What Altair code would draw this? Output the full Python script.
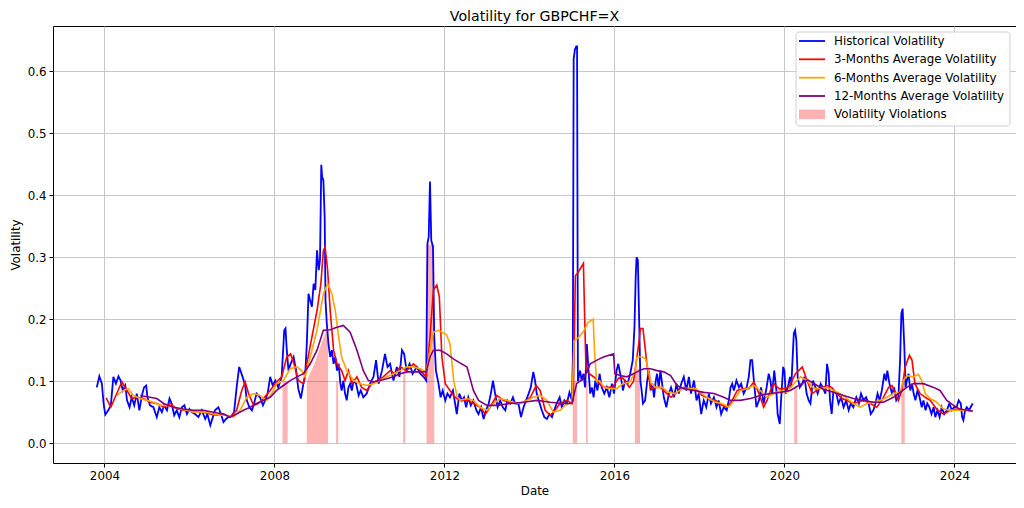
import altair as alt
import pandas as pd

# ---------------- data ----------------
hist_year = [
    2003.82, 2003.88, 2003.94, 2003.98, 2004.02, 2004.09, 2004.15, 2004.21, 2004.27, 2004.33,
    2004.38, 2004.43, 2004.49, 2004.53, 2004.59, 2004.64, 2004.70, 2004.76, 2004.82, 2004.88,
    2004.93, 2004.98, 2005.01, 2005.07, 2005.15, 2005.23, 2005.29, 2005.35, 2005.40, 2005.47,
    2005.53, 2005.58, 2005.64, 2005.70, 2005.76, 2005.82, 2005.88, 2005.94, 2006.00, 2006.05,
    2006.13, 2006.21, 2006.29, 2006.37, 2006.42, 2006.49, 2006.55, 2006.60, 2006.68, 2006.74,
    2006.80, 2006.86, 2006.92, 2007.00, 2007.05, 2007.11, 2007.17, 2007.21, 2007.25, 2007.31,
    2007.35, 2007.41, 2007.47, 2007.52, 2007.58, 2007.66, 2007.73, 2007.78, 2007.84, 2007.90,
    2007.96, 2008.02, 2008.09, 2008.17, 2008.23, 2008.26, 2008.29, 2008.33, 2008.38, 2008.45,
    2008.51, 2008.56, 2008.62, 2008.68, 2008.72, 2008.76, 2008.80, 2008.84, 2008.88, 2008.92,
    2008.96, 2009.00, 2009.04, 2009.07, 2009.10, 2009.12, 2009.15, 2009.18, 2009.20, 2009.23,
    2009.27, 2009.31, 2009.35, 2009.39, 2009.43, 2009.47, 2009.51, 2009.55, 2009.58, 2009.62,
    2009.66, 2009.70, 2009.74, 2009.78, 2009.82, 2009.86, 2009.92, 2009.98, 2010.03, 2010.09,
    2010.17, 2010.25, 2010.33, 2010.39, 2010.45, 2010.53, 2010.60, 2010.66, 2010.72, 2010.80,
    2010.88, 2010.94, 2011.00, 2011.05, 2011.11, 2011.18, 2011.25, 2011.35, 2011.43, 2011.51,
    2011.57, 2011.60, 2011.63, 2011.66, 2011.69, 2011.73, 2011.76, 2011.80, 2011.86, 2011.91,
    2011.96, 2012.02, 2012.07, 2012.13, 2012.20, 2012.25, 2012.29, 2012.35, 2012.41, 2012.46,
    2012.51, 2012.56, 2012.62, 2012.68, 2012.75, 2012.80, 2012.86, 2012.92, 2012.98, 2013.04,
    2013.09, 2013.14, 2013.19, 2013.25, 2013.31, 2013.37, 2013.43, 2013.48, 2013.55, 2013.61,
    2013.66, 2013.74, 2013.80, 2013.86, 2013.92, 2013.98, 2014.03, 2014.09, 2014.13, 2014.17,
    2014.24, 2014.29, 2014.35, 2014.41, 2014.47, 2014.53, 2014.58, 2014.64, 2014.71, 2014.76,
    2014.82, 2014.88, 2014.94, 2015.00, 2015.02, 2015.04, 2015.07, 2015.10, 2015.12, 2015.14,
    2015.19, 2015.23, 2015.27, 2015.31, 2015.35, 2015.39, 2015.43, 2015.47, 2015.51, 2015.55,
    2015.60, 2015.65, 2015.70, 2015.76, 2015.82, 2015.88, 2015.94, 2015.99, 2016.05, 2016.09,
    2016.15, 2016.20, 2016.25, 2016.31, 2016.37, 2016.43, 2016.47, 2016.50, 2016.52, 2016.55,
    2016.58, 2016.61, 2016.63, 2016.67, 2016.72, 2016.77, 2016.81, 2016.85, 2016.89, 2016.93,
    2016.97, 2017.00, 2017.04, 2017.08, 2017.12, 2017.16, 2017.22, 2017.28, 2017.33, 2017.40,
    2017.46, 2017.51, 2017.57, 2017.63, 2017.69, 2017.75, 2017.80, 2017.87, 2017.93, 2017.98,
    2018.04, 2018.10, 2018.16, 2018.22, 2018.27, 2018.34, 2018.40, 2018.45, 2018.51, 2018.57,
    2018.64, 2018.69, 2018.73, 2018.77, 2018.81, 2018.87, 2018.93, 2018.98, 2019.04, 2019.11,
    2019.16, 2019.20, 2019.24, 2019.28, 2019.34, 2019.40, 2019.45, 2019.51, 2019.58, 2019.63,
    2019.67, 2019.71, 2019.76, 2019.81, 2019.84, 2019.89, 2019.92, 2019.97, 2020.00, 2020.03,
    2020.08, 2020.13, 2020.16, 2020.19, 2020.22, 2020.25, 2020.28, 2020.31, 2020.36, 2020.42,
    2020.47, 2020.52, 2020.57, 2020.61, 2020.67, 2020.73, 2020.78, 2020.85, 2020.90, 2020.96,
    2021.00, 2021.04, 2021.07, 2021.11, 2021.15, 2021.22, 2021.27, 2021.33, 2021.39, 2021.45,
    2021.51, 2021.56, 2021.62, 2021.69, 2021.75, 2021.80, 2021.86, 2021.92, 2021.98, 2022.03,
    2022.09, 2022.14, 2022.19, 2022.24, 2022.29, 2022.35, 2022.39, 2022.42, 2022.47, 2022.53,
    2022.58, 2022.63, 2022.68, 2022.72, 2022.75, 2022.78, 2022.82, 2022.85, 2022.88, 2022.92,
    2022.96, 2023.00, 2023.04, 2023.08, 2023.13, 2023.18, 2023.23, 2023.27, 2023.32, 2023.36,
    2023.41, 2023.46, 2023.51, 2023.55, 2023.60, 2023.65, 2023.70, 2023.76, 2023.82, 2023.88,
    2023.94, 2023.99, 2024.05, 2024.10, 2024.15, 2024.18, 2024.21, 2024.25, 2024.29, 2024.34,
    2024.38, 2024.43,
]
hist_vol = [
    0.090, 0.108, 0.096, 0.064, 0.046, 0.053, 0.061, 0.107, 0.096, 0.108,
    0.101, 0.085, 0.093, 0.069, 0.058, 0.074, 0.061, 0.080, 0.053, 0.077,
    0.090, 0.093, 0.074, 0.061, 0.058, 0.042, 0.058, 0.050, 0.061, 0.053,
    0.072, 0.064, 0.045, 0.053, 0.042, 0.058, 0.061, 0.047, 0.055, 0.050,
    0.047, 0.042, 0.053, 0.039, 0.047, 0.029, 0.042, 0.053, 0.058, 0.047,
    0.034, 0.039, 0.042, 0.045, 0.050, 0.090, 0.123, 0.115, 0.107, 0.093,
    0.069, 0.058, 0.053, 0.064, 0.080, 0.074, 0.061, 0.069, 0.080, 0.107,
    0.093, 0.101, 0.090, 0.107, 0.182, 0.185, 0.150, 0.117, 0.128, 0.139,
    0.117, 0.088, 0.072, 0.096, 0.107, 0.160, 0.241, 0.230, 0.220, 0.257,
    0.247, 0.311, 0.279, 0.295, 0.449, 0.430, 0.424, 0.365, 0.230, 0.193,
    0.160, 0.139, 0.150, 0.128, 0.139, 0.117, 0.128, 0.096, 0.085, 0.101,
    0.080, 0.069, 0.090, 0.096, 0.085, 0.101, 0.096, 0.077, 0.085, 0.074,
    0.080, 0.096, 0.107, 0.134, 0.096, 0.117, 0.144, 0.123, 0.128, 0.101,
    0.123, 0.107, 0.150, 0.144, 0.117, 0.128, 0.112, 0.123, 0.112, 0.107,
    0.101, 0.322, 0.333, 0.422, 0.327, 0.317, 0.171, 0.117, 0.096, 0.074,
    0.085, 0.069, 0.080, 0.074, 0.085, 0.064, 0.047, 0.080, 0.069, 0.074,
    0.058, 0.074, 0.061, 0.069, 0.053, 0.047, 0.058, 0.039, 0.053, 0.064,
    0.080, 0.101, 0.080, 0.058, 0.069, 0.058, 0.053, 0.069, 0.064, 0.074,
    0.064, 0.064, 0.042, 0.058, 0.069, 0.080, 0.090, 0.115, 0.101, 0.080,
    0.064, 0.053, 0.042, 0.039, 0.047, 0.042, 0.053, 0.064, 0.074, 0.058,
    0.069, 0.064, 0.082, 0.069, 0.134, 0.620, 0.635, 0.640, 0.640, 0.100,
    0.117, 0.101, 0.112, 0.090, 0.160, 0.117, 0.080, 0.090, 0.074, 0.101,
    0.085, 0.112, 0.090, 0.080, 0.090, 0.074, 0.096, 0.080, 0.117, 0.128,
    0.107, 0.085, 0.101, 0.096, 0.112, 0.134, 0.187, 0.270, 0.300, 0.295,
    0.200, 0.100, 0.090, 0.064, 0.069, 0.101, 0.117, 0.085, 0.096, 0.074,
    0.101, 0.112, 0.090, 0.117, 0.096, 0.074, 0.058, 0.080, 0.090, 0.074,
    0.096, 0.080, 0.096, 0.107, 0.085, 0.107, 0.080, 0.101, 0.069, 0.080,
    0.047, 0.069, 0.058, 0.080, 0.064, 0.074, 0.058, 0.069, 0.047, 0.058,
    0.053, 0.069, 0.090, 0.096, 0.085, 0.101, 0.090, 0.096, 0.080, 0.090,
    0.107, 0.134, 0.134, 0.101, 0.058, 0.069, 0.090, 0.064, 0.090, 0.112,
    0.101, 0.080, 0.117, 0.085, 0.047, 0.031, 0.069, 0.123, 0.117, 0.080,
    0.090, 0.107, 0.090, 0.134, 0.177, 0.182, 0.166, 0.107, 0.090, 0.096,
    0.107, 0.080, 0.069, 0.064, 0.101, 0.090, 0.080, 0.096, 0.090, 0.080,
    0.128, 0.112, 0.069, 0.047, 0.085, 0.080, 0.064, 0.074, 0.058, 0.069,
    0.053, 0.064, 0.058, 0.074, 0.064, 0.080, 0.069, 0.074, 0.064, 0.047,
    0.053, 0.064, 0.080, 0.069, 0.085, 0.112, 0.101, 0.117, 0.096, 0.080,
    0.090, 0.069, 0.074, 0.134, 0.209, 0.217, 0.155, 0.090, 0.101, 0.112,
    0.085, 0.096, 0.080, 0.069, 0.085, 0.074, 0.058, 0.069, 0.053, 0.064,
    0.058, 0.047, 0.058, 0.042, 0.053, 0.042, 0.058, 0.047, 0.053, 0.064,
    0.053, 0.058, 0.058, 0.069, 0.064, 0.042, 0.037, 0.053, 0.058, 0.053,
    0.058, 0.064,
]

ma3_year = [
    2004.04, 2004.15, 2004.41, 2004.53, 2004.64, 2004.76, 2004.92, 2005.07, 2005.23, 2005.39,
    2005.55, 2005.70, 2005.86, 2006.02, 2006.17, 2006.33, 2006.49, 2006.64, 2006.80, 2006.96,
    2007.11, 2007.23, 2007.31, 2007.39, 2007.51, 2007.62, 2007.74, 2007.90, 2008.05, 2008.17,
    2008.29, 2008.38, 2008.46, 2008.56, 2008.68, 2008.76, 2008.88, 2009.00, 2009.09, 2009.15,
    2009.19, 2009.25, 2009.31, 2009.39, 2009.47, 2009.58, 2009.66, 2009.74, 2009.82, 2009.94,
    2010.05, 2010.17, 2010.29, 2010.41, 2010.56, 2010.72, 2010.84, 2010.96, 2011.11, 2011.27,
    2011.43, 2011.57, 2011.66, 2011.74, 2011.82, 2011.88, 2011.94, 2012.02, 2012.13, 2012.25,
    2012.37, 2012.53, 2012.68, 2012.84, 2012.96, 2013.07, 2013.23, 2013.39, 2013.55, 2013.70,
    2013.86, 2014.02, 2014.16, 2014.25, 2014.37, 2014.49, 2014.60, 2014.72, 2014.88, 2015.00,
    2015.03, 2015.08, 2015.14, 2015.27, 2015.30, 2015.33, 2015.35, 2015.45, 2015.55, 2015.65,
    2015.75, 2015.85, 2015.95, 2016.10, 2016.20, 2016.35, 2016.45, 2016.57, 2016.61, 2016.67,
    2016.77, 2016.85, 2016.96, 2017.08, 2017.20, 2017.33, 2017.47, 2017.63, 2017.75, 2017.91,
    2018.06, 2018.22, 2018.38, 2018.53, 2018.65, 2018.77, 2018.89, 2019.04, 2019.16, 2019.28,
    2019.40, 2019.51, 2019.59, 2019.67, 2019.75, 2019.87, 2019.98, 2020.10, 2020.26, 2020.42,
    2020.53, 2020.65, 2020.82, 2021.00, 2021.11, 2021.23, 2021.35, 2021.47, 2021.58, 2021.71,
    2021.86, 2022.02, 2022.17, 2022.29, 2022.45, 2022.53, 2022.60, 2022.68, 2022.76, 2022.84,
    2022.94, 2023.00, 2023.07, 2023.19, 2023.31, 2023.43, 2023.58, 2023.74, 2023.90, 2024.05,
    2024.21, 2024.43,
]
ma3_vol = [
    0.073, 0.058, 0.099, 0.085, 0.072, 0.074, 0.072, 0.066, 0.064, 0.058,
    0.064, 0.055, 0.053, 0.053, 0.050, 0.050, 0.047, 0.045, 0.047, 0.042,
    0.053, 0.085, 0.099, 0.080, 0.061, 0.064, 0.072, 0.085, 0.099, 0.107,
    0.139, 0.144, 0.128, 0.101, 0.096, 0.128, 0.171, 0.214, 0.257, 0.311,
    0.317, 0.279, 0.214, 0.150, 0.128, 0.117, 0.101, 0.117, 0.096, 0.107,
    0.090, 0.085, 0.096, 0.101, 0.107, 0.117, 0.112, 0.123, 0.117, 0.128,
    0.117, 0.107, 0.171, 0.247, 0.255, 0.236, 0.139, 0.096, 0.085, 0.074,
    0.069, 0.069, 0.064, 0.058, 0.047, 0.058, 0.077, 0.069, 0.066, 0.064,
    0.066, 0.074, 0.093, 0.085, 0.053, 0.045, 0.053, 0.064, 0.069, 0.064,
    0.070, 0.270, 0.275, 0.290, 0.200, 0.120, 0.115, 0.110, 0.105, 0.095,
    0.090, 0.090, 0.090, 0.105, 0.105, 0.090, 0.100, 0.160, 0.185, 0.185,
    0.123, 0.088, 0.090, 0.090, 0.082, 0.074, 0.082, 0.090, 0.088, 0.088,
    0.077, 0.072, 0.069, 0.061, 0.058, 0.069, 0.085, 0.088, 0.088, 0.099,
    0.080, 0.058, 0.069, 0.085, 0.096, 0.088, 0.088, 0.090, 0.112, 0.123,
    0.101, 0.080, 0.088, 0.093, 0.090, 0.080, 0.072, 0.069, 0.064, 0.066,
    0.069, 0.064, 0.058, 0.069, 0.090, 0.093, 0.082, 0.069, 0.085, 0.123,
    0.142, 0.134, 0.096, 0.080, 0.074, 0.069, 0.055, 0.047, 0.053, 0.055,
    0.054, 0.052,
]

ma6_year = [
    2004.29, 2004.45, 2004.56, 2004.68, 2004.84, 2005.00, 2005.15, 2005.31, 2005.47, 2005.62,
    2005.78, 2005.94, 2006.09, 2006.25, 2006.41, 2006.56, 2006.72, 2006.88, 2007.04, 2007.19,
    2007.35, 2007.51, 2007.66, 2007.82, 2007.98, 2008.05, 2008.21, 2008.37, 2008.53, 2008.64,
    2008.72, 2008.84, 2009.00, 2009.15, 2009.25, 2009.35, 2009.43, 2009.51, 2009.58, 2009.70,
    2009.86, 2010.02, 2010.17, 2010.33, 2010.49, 2010.64, 2010.80, 2010.96, 2011.11, 2011.27,
    2011.43, 2011.57, 2011.66, 2011.74, 2011.86, 2011.94, 2012.05, 2012.13, 2012.22, 2012.30,
    2012.37, 2012.53, 2012.68, 2012.84, 2013.00, 2013.15, 2013.31, 2013.47, 2013.62, 2013.78,
    2013.94, 2014.09, 2014.25, 2014.41, 2014.56, 2014.72, 2014.88, 2015.00, 2015.05, 2015.15,
    2015.27, 2015.38, 2015.50, 2015.53, 2015.58, 2015.65, 2015.75, 2015.88, 2016.05, 2016.20,
    2016.37, 2016.49, 2016.53, 2016.65, 2016.73, 2016.80, 2016.86, 2016.96, 2017.12, 2017.28,
    2017.43, 2017.59, 2017.75, 2017.91, 2018.06, 2018.22, 2018.38, 2018.53, 2018.69, 2018.81,
    2018.96, 2019.12, 2019.28, 2019.43, 2019.59, 2019.75, 2019.90, 2020.06, 2020.22, 2020.38,
    2020.53, 2020.69, 2020.84, 2021.00, 2021.15, 2021.31, 2021.47, 2021.62, 2021.78, 2021.94,
    2022.09, 2022.25, 2022.41, 2022.56, 2022.72, 2022.80, 2022.88, 2023.04, 2023.15, 2023.23,
    2023.31, 2023.43, 2023.58, 2023.74, 2023.90, 2024.05, 2024.21, 2024.43,
]
ma6_vol = [
    0.077, 0.085, 0.088, 0.077, 0.072, 0.069, 0.066, 0.061, 0.061, 0.058,
    0.055, 0.053, 0.050, 0.050, 0.050, 0.047, 0.045, 0.045, 0.042, 0.053,
    0.074, 0.080, 0.077, 0.069, 0.085, 0.096, 0.101, 0.120, 0.123, 0.117,
    0.107, 0.139, 0.182, 0.241, 0.257, 0.241, 0.214, 0.171, 0.139, 0.117,
    0.101, 0.096, 0.093, 0.096, 0.101, 0.107, 0.112, 0.117, 0.123, 0.123,
    0.120, 0.115, 0.150, 0.179, 0.182, 0.179, 0.175, 0.160, 0.100, 0.075,
    0.069, 0.072, 0.069, 0.058, 0.053, 0.064, 0.072, 0.069, 0.066, 0.064,
    0.069, 0.074, 0.077, 0.069, 0.050, 0.053, 0.064, 0.064, 0.165, 0.170,
    0.180, 0.195, 0.200, 0.150, 0.100, 0.101, 0.090, 0.088, 0.088, 0.096,
    0.099, 0.117, 0.139, 0.139, 0.136, 0.117, 0.096, 0.090, 0.090, 0.082,
    0.080, 0.088, 0.088, 0.088, 0.080, 0.072, 0.066, 0.064, 0.058, 0.069,
    0.085, 0.088, 0.093, 0.085, 0.074, 0.080, 0.085, 0.082, 0.096, 0.107,
    0.101, 0.088, 0.088, 0.090, 0.085, 0.080, 0.072, 0.064, 0.058, 0.064,
    0.066, 0.069, 0.074, 0.080, 0.082, 0.101, 0.109, 0.107, 0.111, 0.101,
    0.080, 0.072, 0.066, 0.055, 0.053, 0.053, 0.053, 0.052,
]

ma12_year = [
    2004.84, 2005.07, 2005.23, 2005.39, 2005.62, 2005.86, 2006.09, 2006.33, 2006.56, 2006.80,
    2006.96, 2007.11, 2007.27, 2007.43, 2007.58, 2007.74, 2007.90, 2008.05, 2008.21, 2008.37,
    2008.53, 2008.68, 2008.84, 2009.00, 2009.15, 2009.31, 2009.47, 2009.62, 2009.78, 2009.94,
    2010.09, 2010.21, 2010.33, 2010.49, 2010.64, 2010.80, 2010.96, 2011.11, 2011.27, 2011.43,
    2011.57, 2011.66, 2011.74, 2011.90, 2012.05, 2012.21, 2012.40, 2012.53, 2012.68, 2012.80,
    2013.00, 2013.24, 2013.55, 2013.86, 2014.17, 2014.49, 2014.80, 2015.00, 2015.11, 2015.27,
    2015.43, 2015.59, 2015.74, 2015.98, 2016.01, 2016.13, 2016.29, 2016.45, 2016.53, 2016.69,
    2016.85, 2017.00, 2017.16, 2017.32, 2017.47, 2017.63, 2017.87, 2018.10, 2018.34, 2018.57,
    2018.73, 2018.96, 2019.20, 2019.43, 2019.67, 2019.90, 2020.14, 2020.38, 2020.55, 2020.72,
    2020.91, 2021.15, 2021.39, 2021.62, 2021.86, 2022.09, 2022.33, 2022.56, 2022.72, 2022.88,
    2023.04, 2023.27, 2023.51, 2023.66, 2023.82, 2023.98, 2024.13, 2024.29, 2024.43,
]
ma12_vol = [
    0.077, 0.074, 0.072, 0.064, 0.058, 0.055, 0.053, 0.053, 0.050, 0.047,
    0.042, 0.047, 0.053, 0.058, 0.064, 0.069, 0.074, 0.085, 0.093, 0.101,
    0.107, 0.112, 0.128, 0.150, 0.182, 0.183, 0.187, 0.190, 0.179, 0.150,
    0.117, 0.101, 0.099, 0.101, 0.104, 0.107, 0.112, 0.115, 0.115, 0.115,
    0.115, 0.139, 0.150, 0.150, 0.144, 0.136, 0.128, 0.123, 0.085, 0.069,
    0.061, 0.061, 0.064, 0.066, 0.069, 0.066, 0.064, 0.064, 0.096, 0.104,
    0.128, 0.134, 0.139, 0.144, 0.112, 0.109, 0.107, 0.112, 0.115, 0.120,
    0.120, 0.117, 0.115, 0.109, 0.093, 0.088, 0.085, 0.082, 0.080, 0.074,
    0.069, 0.069, 0.072, 0.077, 0.080, 0.082, 0.085, 0.095, 0.102, 0.095,
    0.087, 0.082, 0.077, 0.072, 0.069, 0.066, 0.066, 0.074, 0.082, 0.090,
    0.096, 0.096, 0.090, 0.085, 0.069, 0.061, 0.055, 0.053, 0.052,
]

# violation episodes: group id, year, upper edge of the shaded band
viol_group = [1, 1, 2, 2, 2, 2, 3, 3, 4, 4, 5, 5, 6, 6, 7, 7, 8, 8, 9, 9, 10, 10]
viol_year = [2008.19, 2008.31, 2008.76, 2008.95, 2009.10, 2009.26, 2009.45, 2009.50,
             2011.03, 2011.08, 2011.58, 2011.76, 2015.02, 2015.12, 2015.33, 2015.37,
             2016.48, 2016.60, 2020.23, 2020.30, 2022.75, 2022.83]
viol_top = [0.10, 0.10, 0.10, 0.13, 0.16, 0.19, 0.10, 0.10,
            0.12, 0.12, 0.32, 0.32, 0.10, 0.10, 0.10, 0.10,
            0.12, 0.12, 0.09, 0.09, 0.10, 0.10]

series_names = ["Historical Volatility", "3-Months Average Volatility",
                "6-Months Average Volatility", "12-Months Average Volatility"]
series_colors = ["#0000ff", "#ff0000", "#ffa500", "#800080"]
violation_name = "Volatility Violations"
violation_color = "#ff0000"

x_tick_years = [2004, 2008, 2012, 2016, 2020, 2024]
y_tick_values = [0.0, 0.1, 0.2, 0.3, 0.4, 0.5, 0.6]


def to_date(y):
    yr = int(y)
    start = pd.Timestamp(yr, 1, 1)
    end = pd.Timestamp(yr + 1, 1, 1)
    return start + (end - start) * (y - yr)


FONT = "DejaVu Sans"
FS = 11.85

xscale = alt.Scale(domain=["2002-10-16T00:00:00", "2025-06-13T00:00:00"])
yscale = alt.Scale(domain=[-0.032, 0.673], zero=False, nice=False)
xaxis = alt.Axis(values=[alt.DateTime(year=y, month=1, date=1) for y in x_tick_years],
                 format="%Y", title="Date", grid=True)
yaxis = alt.Axis(values=y_tick_values, format=".1f", title="Volatility", grid=True)


def series_df(years, vals):
    return pd.DataFrame({"date": [to_date(y) for y in years], "vol": vals})


layers = []

vdf = pd.DataFrame({"grp": viol_group, "date": [to_date(y) for y in viol_year], "top": viol_top})
layers.append(
    alt.Chart(vdf).mark_area(color=violation_color, opacity=0.3, interpolate="linear").encode(
        x=alt.X("date:T", scale=xscale, axis=xaxis),
        y=alt.Y("top:Q", scale=yscale, axis=yaxis),
        y2=alt.datum(0),
        detail="grp:N",
    )
)

for (yrs, vals), color, width in zip(
    [(hist_year, hist_vol), (ma3_year, ma3_vol), (ma6_year, ma6_vol), (ma12_year, ma12_vol)],
    series_colors, [1.8, 1.6, 1.6, 1.6]
):
    layers.append(
        alt.Chart(series_df(yrs, vals)).mark_line(color=color, strokeWidth=width).encode(
            x=alt.X("date:T", scale=xscale, axis=xaxis),
            y=alt.Y("vol:Q", scale=yscale, axis=yaxis),
        )
    )

# legend (drawn inside the plot, upper right)
one = pd.DataFrame({"k": [0]})
layers.append(
    alt.Chart(one).mark_rect(fill="white", stroke="#cccccc", strokeWidth=1, cornerRadius=3, opacity=0.9).encode(
        x=alt.value(743), x2=alt.value(957), y=alt.value(6), y2=alt.value(100)
    )
)
row_y = [15, 33.3, 51.7, 70, 88.3]
for i, (name, color) in enumerate(zip(series_names + [violation_name], series_colors + [violation_color])):
    d = pd.DataFrame({"label": [name]})
    if i < 4:
        layers.append(
            alt.Chart(d).mark_rule(color=color, strokeWidth=1.8).encode(
                x=alt.value(746), x2=alt.value(772), y=alt.value(row_y[i])
            )
        )
    else:
        layers.append(
            alt.Chart(d).mark_rect(color=color, opacity=0.3).encode(
                x=alt.value(746), x2=alt.value(772), y=alt.value(row_y[i] - 4.7), y2=alt.value(row_y[i] + 4.7)
            )
        )
    layers.append(
        alt.Chart(d).mark_text(align="left", baseline="middle", font=FONT, fontSize=FS, color="black").encode(
            x=alt.value(781), y=alt.value(row_y[i]), text="label:N"
        )
    )

chart = alt.layer(*layers).properties(
    width=963,
    height=437,
    title=alt.TitleParams("Volatility for GBPCHF=X", font=FONT, fontSize=14.2, fontWeight="normal",
                          anchor="middle", color="black", offset=2),
    autosize=alt.AutoSizeParams(type="none"),
    padding={"left": 45, "top": 18, "right": 0, "bottom": 37},
).configure_view(
    stroke="black", strokeWidth=1
).configure_axis(
    labelFont=FONT, labelFontSize=FS, labelColor="black",
    titleFont=FONT, titleFontSize=FS, titleColor="black", titleFontWeight="normal",
    tickColor="black", tickSize=4, labelPadding=3, domain=False,
    gridColor="#c8c8c8", gridWidth=1,
).configure_axisX(titlePadding=4).configure_axisY(titlePadding=6)

chart.save("out.html", embed_options={"renderer": "svg", "actions": False})
